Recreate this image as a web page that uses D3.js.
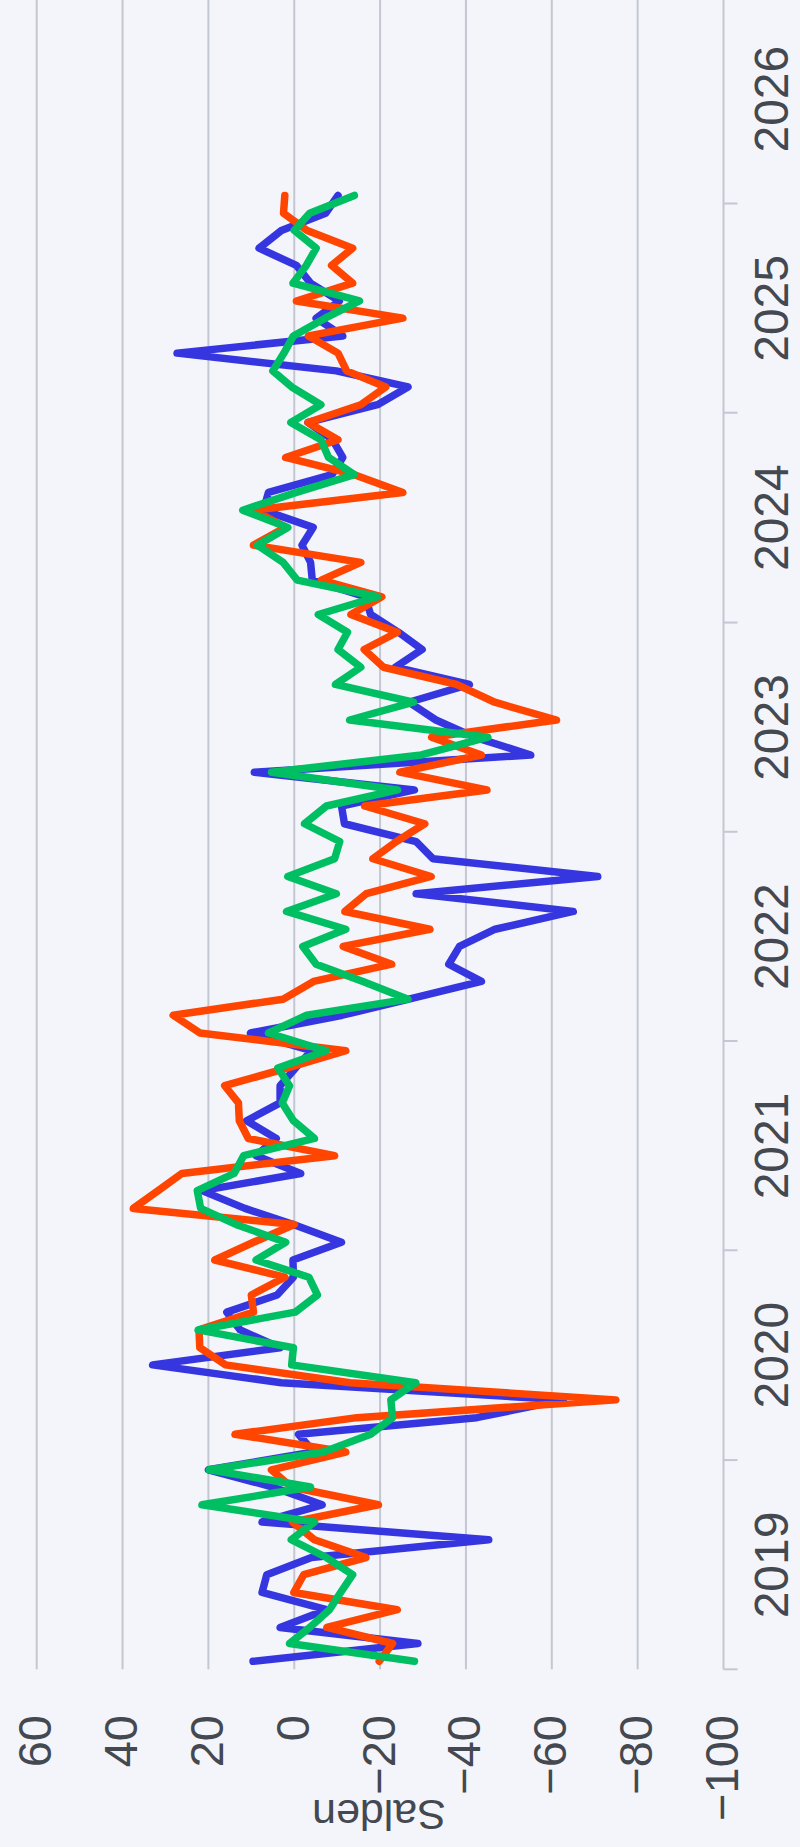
<!DOCTYPE html>
<html><head><meta charset="utf-8">
<script src="https://cdn.jsdelivr.net/npm/d3@7/dist/d3.min.js"></script>
<style>html,body{margin:0;padding:0;background:#f4f5fa;}svg{display:block;}</style>
</head><body>
<svg id="chart" width="800" height="1847"></svg>
<script>
// ---- data (monthly, Jan 2019 .. Jan 2026) ----
const firstMonth = [2019, 0];
const lastMonth = [2026, 0];
const valueTicks = [-100, -80, -60, -40, -20, 0, 20, 40, 60];
const yearTicks = [2019, 2020, 2021, 2022, 2023, 2024, 2025, 2026];
const yearLabels = ["2019", "2020", "2021", "2022", "2023", "2024", "2025", "2026"];
const axisTitle = "Salden";
const colors = ["#3636e0", "#ff4500", "#00bf63"];

const seriesBlue = [9.6,-28.8,3.3,-7.5,7.5,6.4,-4,-45.3,7.5,-6.5,5,20,
  -4.5,-1,-42.5,-62.7,3,33,3.3,12.6,15.7,4,0.2,0.3,
  -11,0.2,11.5,21.5,-1.5,8.9,4.2,11.1,3.3,3.3,-0.3,-4,
  10.2,-11.2,-26.7,-43.6,-36,-38.5,-46.8,-65,-28.4,-70.7,-32.3,-28.4,
  -11.7,-11,-28,9.3,-55.1,-42,-33,-26.7,-40.8,-23.5,-29.8,-24.3,
  -17.8,-16.5,-4.2,-3.8,-1.8,-4.4,7.2,6,-8.8,-11.3,-8.9,-3.2,
  -19.4,-26.5,-9.8,27.3,-11.3,-5.1,-10.5,-3.8,-0.5,8.2,3,-7.3,
  -10.2];
const seriesOrange = [-19.8,-22.9,-7.6,-24,0.1,-2.2,-16.7,-4.7,0.4,-19.6,0.7,5.3,
  -12,13.8,-14.6,-74.9,-13,16,22,22.2,9.5,10,2.2,18.5,
  9.5,0,37.5,31.7,26.2,-9.4,10.7,12.8,13,16.2,1.5,-12,
  22,28.2,2.6,-4.5,-22.7,-11.4,-31.6,-11.8,-16.8,-31.9,-18.3,-23.8,
  -30.4,-16.4,-44.9,-24.6,-43.6,-32,-61.1,-46.7,-37.8,-20.8,-16.3,-24,
  -13.2,-20.4,-6.3,-15.5,9.5,2,9.5,-25.3,-14,2,-10.2,-3.2,
  -15.5,-21.3,-12.2,-10.2,-3.3,-25.3,-0.5,-13.6,-8.7,-13.6,-3,2.5,
  2.2];
const seriesGreen = [-28,1.1,-3.6,-8.2,-10.8,-13.6,-7.5,0.7,-4.7,21.5,-3.8,19.8,
  -6.8,-17.8,-22.9,-22.5,-28.3,0.6,0.2,22.4,-0.2,-5.4,-3.4,8.9,
  2,13.6,21.8,22.6,14,11.8,-4.7,0.2,2.8,1.1,3.8,-7.4,
  6,-2.9,-26.5,-16,-5.1,-2,-12,1.8,-9.8,1.5,-9.4,-10.6,
  -2.4,-7.5,-24.1,5.3,-29.6,-45.1,-12.9,-27.8,-9.6,-15.5,-10.2,-12.4,
  -5.6,-19.4,-0.7,2.6,8.6,1.5,12,-0.5,-14,-8,-6.2,0.8,
  -6.2,0.6,5,2.4,0.2,-7.2,-15.2,0.3,-2.8,-5.1,0,-3.6,
  -14];

// ---- layout (chart built landscape, then turned a quarter to the left) ----
const W = 1847, H = 800;
const plotLeft = 177.7, plotBottom = 723.5;
const months = d3.timeMonth.range(new Date(firstMonth[0], firstMonth[1], 1),
                                  new Date(lastMonth[0], lastMonth[1] + 1, 1))
                 .map(m => d3.timeDay.offset(m, 14));

const x = d3.scaleTime()
  .domain([new Date(2019, 0, 1), new Date(2026, 0, 1)])
  .range([plotLeft, plotLeft + 7 * 209.4]);
const y = d3.scaleLinear().domain([-100, 60]).range([plotBottom, 36.7]);

const svg = d3.select("#chart");
svg.append("rect").attr("width", 800).attr("height", 1847).attr("fill", "#f4f5fa");
const g = svg.append("g").attr("transform", `translate(0,${W}) rotate(-90)`);

const font = "'Liberation Sans', Arial, Helvetica, sans-serif";
const gridColor = "#c3c7d1";
const textColor = "#444850";

// grid lines
g.append("g").selectAll("line").data(valueTicks).join("line")
  .attr("x1", plotLeft).attr("x2", W)
  .attr("y1", d => y(d)).attr("y2", d => y(d))
  .attr("stroke", gridColor).attr("stroke-width", 2);

// year ticks
g.append("g").selectAll("line").data(yearTicks).join("line")
  .attr("x1", d => x(new Date(d, 0, 1))).attr("x2", d => x(new Date(d, 0, 1)))
  .attr("y1", plotBottom).attr("y2", plotBottom + 14)
  .attr("stroke", gridColor).attr("stroke-width", 2);

// year labels (centred in each year)
g.append("g").selectAll("text").data(yearTicks).join("text")
  .attr("x", (d, i) => x(new Date(d, 6, 2)))
  .attr("y", 788)
  .attr("text-anchor", "middle")
  .attr("font-family", font).attr("font-size", 48).attr("fill", textColor)
  .text((d, i) => yearLabels[i]);

// value labels
g.append("g").selectAll("text").data(valueTicks).join("text")
  .attr("x", 132).attr("y", d => y(d) + 14.5)
  .attr("text-anchor", "end")
  .attr("font-family", font).attr("font-size", 47).attr("fill", textColor)
  .text(d => d < 0 ? "\u2212" + Math.abs(d) : String(d));

// axis title
g.append("text")
  .attr("transform", "translate(47,379) rotate(-90)")
  .attr("text-anchor", "middle")
  .attr("font-family", font).attr("font-size", 43).attr("fill", textColor)
  .text(axisTitle);

// lines
const line = d3.line().x((d, i) => x(months[i])).y(d => y(d));
[seriesBlue, seriesOrange, seriesGreen].forEach((s, k) => {
  g.append("path").datum(s)
    .attr("d", line)
    .attr("fill", "none")
    .attr("stroke", colors[k])
    .attr("stroke-width", 7.5)
    .attr("stroke-linejoin", "round")
    .attr("stroke-linecap", "round");
});
</script>
</body></html>
